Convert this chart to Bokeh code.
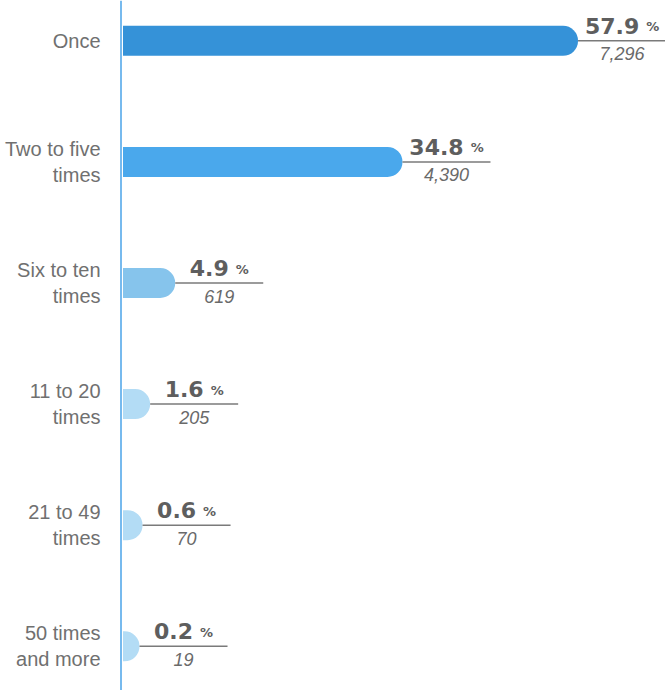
from bokeh.plotting import figure
from bokeh.models import Range1d, Span, ColumnDataSource
from bokeh.embed import file_html
from bokeh.resources import INLINE
from bokeh.core.properties import value

# ---- data ----
categories = ["Once", "Two to five\ntimes", "Six to ten\ntimes", "11 to 20\ntimes",
              "21 to 49\ntimes", "50 times\nand more"]
percent = [57.9, 34.8, 4.9, 1.6, 0.6, 0.2]
counts = ["7,296", "4,390", "619", "205", "70", "19"]
colors = ["#3592d8", "#4aa8ec", "#86c4ec", "#b3dcf5", "#b3dcf5", "#b3dcf5"]

# ---- layout constants (pixels) ----
W, H = 665, 690
PX_X = 7.6      # px per percent
X0 = 122.5      # px of x = 0
PX_Y = 121.1    # px per category step
Y0 = 40.3       # px of first category centre

x_start = -X0 / PX_X
x_end = (W - X0) / PX_X
y_top = -Y0 / PX_Y
y_bot = (H - Y0) / PX_Y

p = figure(width=W, height=H, x_range=Range1d(x_start, x_end),
           y_range=Range1d(y_bot, y_top), output_backend="svg",
           toolbar_location=None, min_border=0,
           x_axis_location=None, y_axis_location=None)
p.grid.visible = False
p.outline_line_color = None
p.background_fill_color = "white"

cap = 15 / PX_X
ys = list(range(len(percent)))
rights = [v + cap for v in percent]

NUM_FS = 22
PCT_FS = 13
GAP = 7


def num_width(s):
    w = 0.0
    for ch in s:
        w += 0.38 if ch == "." else 0.696
    return w * NUM_FS


num_txt = [f"{v:.1f}" for v in percent]
num_x, pct_x = [], []
for r, s in zip(rights, num_txt):
    wn = num_width(s)
    wp = 1.0 * PCT_FS
    total = wn + GAP + wp
    right_edge = 44 - total / 2 + wn
    num_x.append(r + right_edge / PX_X)
    pct_x.append(r + (right_edge + GAP) / PX_X)

src = ColumnDataSource(dict(
    y=ys, right=rights, color=colors, cat=categories,
    line_x1=[r + 88 / PX_X for r in rights],
    num=num_txt, num_x=num_x, pct_x=pct_x, pct=["%"] * len(percent),
    num_y=[y - 15 / PX_Y for y in ys],
    pct_y=[y - 14 / PX_Y for y in ys],
    cnt=counts, cnt_x=[r + 44 / PX_X for r in rights],
    cnt_y=[y + 13 / PX_Y for y in ys],
    lab_x=[-22.5 / PX_X] * len(percent),
))

p.hbar(y="y", left=0, right="right", height=30 / PX_Y, color="color",
       line_color=None, border_radius=(0, 15, 15, 0), source=src)

p.segment(x0="right", y0="y", x1="line_x1", y1="y", line_color="#7a7a7a",
          line_width=1.5, source=src)

p.text(x="num_x", y="num_y", text="num", text_align="right",
       text_baseline="alphabetic", text_font=value("DejaVu Sans"),
       text_font_style="bold", text_font_size=f"{NUM_FS}px",
       text_color="#5e5e5e", source=src)
p.text(x="pct_x", y="pct_y", text="pct", text_align="left",
       text_baseline="alphabetic", text_font=value("DejaVu Sans"),
       text_font_style="bold", text_font_size=f"{PCT_FS}px",
       text_color="#5e5e5e", source=src)
p.text(x="cnt_x", y="cnt_y", text="cnt", text_align="center",
       text_baseline="alphabetic", text_font=value("Liberation Sans"),
       text_font_style="italic", text_font_size="18px",
       text_color="#6a6a6a", source=src)

p.text(x="lab_x", y="y", text="cat", text_align="right",
       text_baseline="middle", text_font=value("Liberation Sans"),
       text_font_size="20px", text_line_height=1.2,
       text_color="#707070", source=src)

p.add_layout(Span(location=-2 / PX_X, dimension="height",
                  line_color="#4aa3e8", line_width=1.5))

open("out.html", "w").write(file_html(p, INLINE))
